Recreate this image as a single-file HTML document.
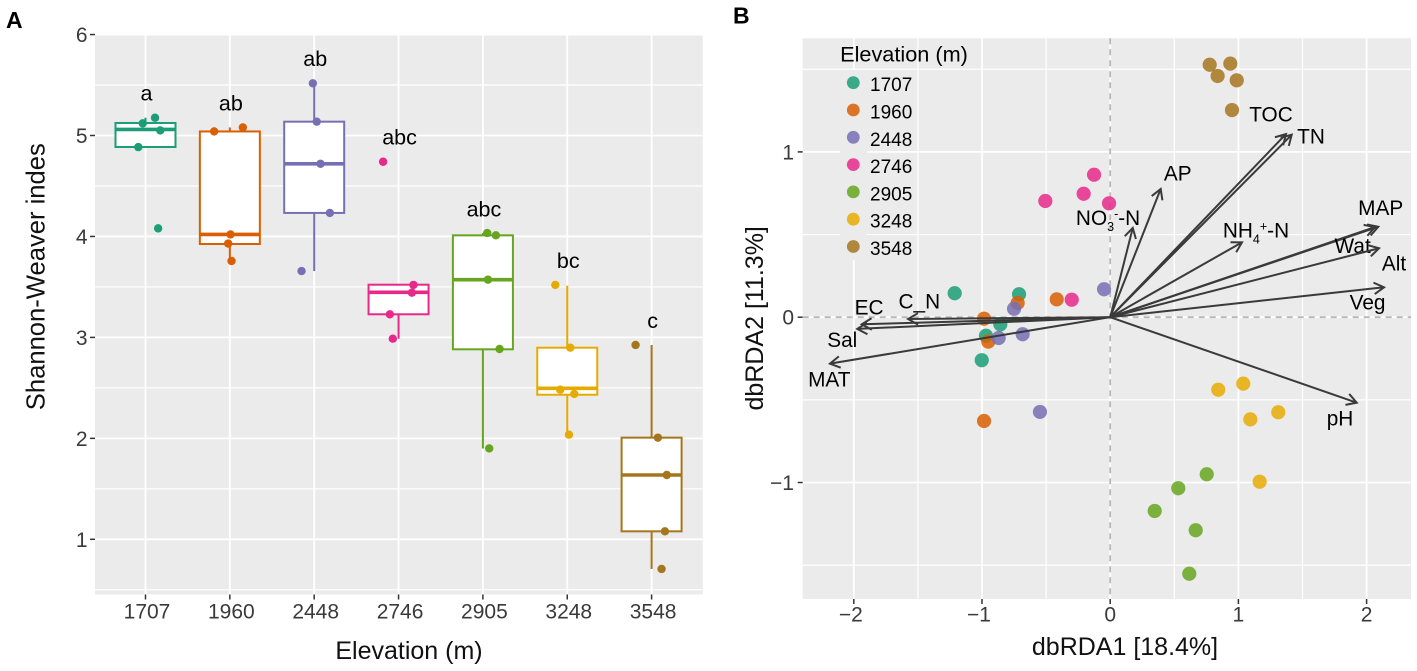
<!DOCTYPE html>
<html lang="en">
<head>
<meta charset="utf-8">
<title>Shannon-Weaver index and dbRDA by elevation</title>
<style>
html,body{margin:0;padding:0;background:#fff;}
svg{display:block;font-family:"Liberation Sans",Arial,sans-serif;}
</style>
</head>
<body>
<svg id="figure" xmlns="http://www.w3.org/2000/svg" width="1417" height="671" viewBox="0 0 1417 671"></svg>
<script>
// ---------- shared data ----------
const categories = ["1707","1960","2448","2746","2905","3248","3548"];
const colors = ["#1B9E77","#D95F02","#7570B3","#E7298A","#66A61E","#E6AB02","#A6761D"];

// ---------- panel A data ----------
const boxQ1 = [4.886,3.925,4.233,3.229,2.882,2.432,1.079];
const boxMedian = [5.06,4.02,4.72,3.447,3.572,2.496,1.637];
const boxQ3 = [5.124,5.04,5.137,3.522,4.011,2.898,2.007];
const whiskerLow = [4.886,3.757,3.657,2.987,1.90,2.036,0.706];
const whiskerHigh = [5.176,5.08,5.517,3.522,4.034,3.512,2.925];
const diversityValues = [
  [5.12,5.176,5.05,4.885,4.08],
  [5.04,5.08,4.02,3.93,3.757],
  [5.517,5.137,4.72,4.233,3.657],
  [4.74,3.52,3.443,3.229,2.987],
  [4.034,4.011,3.572,2.885,1.90],
  [3.52,2.898,2.482,2.44,2.036],
  [2.925,2.007,1.637,1.079,0.706]
];
const diversityJitter = [
  [-0.033,0.113,0.175,-0.085,0.15],
  [-0.186,0.154,0.008,-0.02,0.02],
  [-0.016,0.03,0.075,0.186,-0.15],
  [-0.183,0.177,0.158,-0.103,-0.068],
  [0.051,0.154,0.06,0.198,0.075],
  [-0.142,0.036,-0.083,0.083,0.02],
  [-0.19,0.075,0.18,0.158,0.118]
];
const sigLetters = ["a","ab","ab","abc","abc","bc","c"];
const sigLetterValues = [5.345,5.246,5.688,4.909,4.2,3.685,3.093];
const yTicksA = [1,2,3,4,5,6];
const yMinorA = [0.5,1.5,2.5,3.5,4.5,5.5];

// ---------- panel B data ----------
const siteX = [
  [-1.213,-0.711,-0.857,-0.969,-1.002],
  [-0.984,-0.722,-0.417,-0.951,-0.984],
  [-0.75,-0.683,-0.87,-0.548,-0.048],
  [-0.506,-0.126,-0.207,-0.009,-0.3],
  [0.753,0.531,0.347,0.667,0.617],
  [0.843,1.038,1.093,1.311,1.166],
  [0.776,0.937,0.838,0.987,0.95]
];
const siteY = [
  [0.145,0.139,-0.043,-0.112,-0.26],
  [-0.009,0.086,0.108,-0.148,-0.628],
  [0.051,-0.103,-0.126,-0.573,0.169],
  [0.703,0.862,0.747,0.689,0.106],
  [-0.95,-1.035,-1.172,-1.289,-1.552],
  [-0.439,-0.402,-0.618,-0.575,-0.995],
  [1.527,1.534,1.459,1.433,1.253]
];
const vectorNames = ["Veg","MAP","Wat","Alt","NH4","TOC","TN","AP","NO3","pH","MAT","Sal","EC","C_N"];
const vectorX = [2.136,2.091,2.065,2.097,1.028,1.371,1.416,0.394,0.176,1.923,-2.186,-1.973,-1.938,-1.577];
const vectorY = [0.181,0.547,0.545,0.417,0.453,1.108,1.104,0.776,0.54,-0.517,-0.281,-0.071,-0.043,-0.011];
const xTicksB = [-2,-1,0,1,2];
const yTicksB = [-1,0,1];
const xMinorB = [-1.5,-0.5,0.5,1.5];
const yMinorB = [-1.5,-0.5,0.5,1.5];

// ---------- layout ----------
const PA = {l:95,r:702.7,t:35,b:594.5};
const PB = {l:802.7,r:1411,t:38.3,b:599};
const INK = "#3a3a3a";
const PANEL = "#ebebeb";
const labelOffset = {
  Veg:[-16.5,22],MAP:[2.4,-11.7],Wat:[-22.3,25.7],Alt:[15,22.4],NH4:[14,-5],TOC:[-15,-12.7],TN:[19.3,8.6],
  AP:[17,-8.3],NO3:[-24.7,-2.7],pH:[-16.7,23],MAT:[-0.7,23],Sal:[-15,18.3],EC:[7.3,-10],C_N:[11.3,-10.7]
};

// ---------- scales ----------
const xA = i => 145.5 + 84.35 * i;
const yA = v => 539.3 - (v - 1) * 100.95;
const xB = v => 1110.2 + 128.2 * v;
const yB = v => 317.2 - 165.3 * v;

const NS = "http://www.w3.org/2000/svg";
const svg = document.getElementById("figure");
function make(tag, attrs, parent, text){
  const e = document.createElementNS(NS, tag);
  for (const k in attrs) e.setAttribute(k, attrs[k]);
  if (text !== undefined) e.textContent = text;
  parent.appendChild(e);
  return e;
}
function label(parent, name, x, y, text, size, opts){
  const e = make("text", Object.assign({x:x,y:y,"font-size":size,fill:"#111","text-anchor":"middle"}, opts||{}), parent, text);
  
  
  return e;
}
function line(parent, name, x1, y1, x2, y2, stroke, width, extra){
  const e = make("line", Object.assign({x1:x1,y1:y1,x2:x2,y2:y2,stroke:stroke,"stroke-width":width}, extra||{}), parent);
  
  
  return e;
}

// ---------- Panel A ----------
const gA = make("g", {}, svg);


label(svg, 'panel-a-tag', 6, 28, "A", 23, {"font-weight":"bold","text-anchor":"start",fill:"#000"});

const bgA = make("rect", {x:PA.l,y:PA.t,width:PA.r-PA.l,height:PA.b-PA.t,fill:PANEL}, gA);



yMinorA.forEach(v => line(gA, 'minor-gridline-y', PA.l, yA(v), PA.r, yA(v), "#fff", 1.2));
yTicksA.forEach(v => {
  line(gA, 'major-gridline-y', PA.l, yA(v), PA.r, yA(v), "#fff", 1.8);
  line(gA, 'y-tick-mark', PA.l-5, yA(v), PA.l, yA(v), "#333", 1.5);
  label(gA, 'y-tick-label', 87.5, yA(v)+7.5, String(v), 21, {"text-anchor":"end",fill:INK});
});
categories.forEach((c,i) => {
  line(gA, 'major-gridline-x', xA(i), PA.t, xA(i), PA.b, "#fff", 1.8);
  line(gA, 'x-tick-mark', xA(i), PA.b, xA(i), PA.b+5, "#333", 1.5);
  label(gA, 'x-tick-label', xA(i)+1.5, 618.3, c, 21, {fill:INK});
});

categories.forEach((c,i) => {
  const g = make("g", {}, gA);
  
  
  line(g, 'whisker-upper', xA(i), yA(boxQ3[i]), xA(i), yA(whiskerHigh[i]), colors[i], 2);
  line(g, 'whisker-lower', xA(i), yA(boxQ1[i]), xA(i), yA(whiskerLow[i]), colors[i], 2);
  const box = make("rect", {x:xA(i)-30,y:yA(boxQ3[i]),width:60,height:yA(boxQ1[i])-yA(boxQ3[i]),fill:"#fff",stroke:colors[i],"stroke-width":2}, g);
  
  
  line(g, 'median-' + c, xA(i)-30, yA(boxMedian[i]), xA(i)+30, yA(boxMedian[i]), colors[i], 3.6);
  diversityValues[i].forEach((v,j) => {
    const p = make("circle", {cx:xA(i+diversityJitter[i][j]),cy:yA(v),r:4.2,fill:colors[i]}, g);
    
    
  });
  label(g, 'significance-letter-' + c, xA(i)+1, yA(sigLetterValues[i]), sigLetters[i], 21.5, {fill:"#000"});
});

label(gA, 'x-axis-title', 409, 659, "Elevation (m)", 25);
label(gA, 'y-axis-title', 0, 0, "Shannon-Weaver indes", 25.6, {transform:"translate(44.3 276.7) rotate(-90)"});

// ---------- Panel B ----------
const gB = make("g", {}, svg);


label(svg, 'panel-b-tag', 733, 23.5, "B", 23, {"font-weight":"bold","text-anchor":"start",fill:"#000"});

const bgB = make("rect", {x:PB.l,y:PB.t,width:PB.r-PB.l,height:PB.b-PB.t,fill:PANEL}, gB);



xMinorB.forEach(v => line(gB, 'minor-gridline-x', xB(v), PB.t, xB(v), PB.b, "#fff", 1.2));
yMinorB.forEach(v => line(gB, 'minor-gridline-y', PB.l, yB(v), PB.r, yB(v), "#fff", 1.2));
xTicksB.forEach(v => {
  line(gB, 'major-gridline-x', xB(v), PB.t, xB(v), PB.b, "#fff", 1.8);
  line(gB, 'x-tick-mark', xB(v), PB.b, xB(v), PB.b+5, "#333", 1.5);
  label(gB, 'x-tick-label', xB(v) - (v<0?3:0), 621.7, String(v).replace("-","\u2212"), 21, {fill:INK});
});
yTicksB.forEach(v => {
  line(gB, 'major-gridline-y', PB.l, yB(v), PB.r, yB(v), "#fff", 1.8);
  line(gB, 'y-tick-mark', PB.l-5, yB(v), PB.l, yB(v), "#333", 1.5);
  label(gB, 'y-tick-label', 794, yB(v)+7.5, String(v).replace("-","\u2212"), 21, {"text-anchor":"end",fill:INK});
});
line(gB, 'zero-line-horizontal', PB.l, yB(0), PB.r, yB(0), "#b8b8b8", 1.8, {"stroke-dasharray":"6 5"});
line(gB, 'zero-line-vertical', xB(0), PB.t, xB(0), PB.b, "#b8b8b8", 1.8, {"stroke-dasharray":"6 5"});

// legend
const legend = make("g", {}, gB);


const keyBg = make("rect", {x:840,y:70,width:27,height:190,fill:PANEL}, legend);


label(legend, 'legend-title', 904, 61.7, "Elevation (m)", 21.7, {fill:"#000"});

// site points
categories.forEach((c,i) => {
  const key = make("circle", {cx:853.3,cy:82.7+27.3*i,r:6.4,fill:colors[i],"fill-opacity":0.85}, legend);
  
  
  label(legend, 'legend-label-' + c, 870, 91.2+27.3*i, c, 19, {"text-anchor":"start",fill:"#000"});
  siteX[i].forEach((x,j) => {
    const p = make("circle", {cx:xB(x),cy:yB(siteY[i][j]),r:7.1,fill:colors[i],"fill-opacity":0.85}, gB);
    
    
  });
});

// vectors
vectorNames.forEach((name,i) => {
  const g = make("g", {}, gB);
  
  
  const tx = xB(vectorX[i]), ty = yB(vectorY[i]), ox = xB(0), oy = yB(0);
  line(g, 'vector-shaft-' + name, ox, oy, tx, ty, INK, 2);
  const ang = Math.atan2(ty-oy, tx-ox), h = 11.5, sp = Math.PI/6;
  const head = make("polyline", {
    points:(tx-h*Math.cos(ang-sp))+","+(ty-h*Math.sin(ang-sp))+" "+tx+","+ty+" "+(tx-h*Math.cos(ang+sp))+","+(ty-h*Math.sin(ang+sp)),
    fill:"none",stroke:INK,"stroke-width":2
  }, g);
  
  
  const off = labelOffset[name];
  const t = label(g, 'vector-label-' + name, tx+off[0], ty+off[1], "", 20.8, {fill:"#000"});
  if (name === "NO3" || name === "NH4") {
    const stem = name === "NO3" ? "NO" : "NH";
    const sub = name === "NO3" ? "3" : "4";
    const sup = name === "NO3" ? "-" : "+";
    make("tspan", {}, t, stem);
    make("tspan", {"font-size":12.5,dy:6}, t, sub);
    make("tspan", {"font-size":12.5,dy:-13}, t, sup);
    make("tspan", {dy:7}, t, "-N");
  } else {
    t.textContent = name;
  }
});

label(gB, 'x-axis-title', 1125, 655, "dbRDA1 [18.4%]", 25);
label(gB, 'y-axis-title', 0, 0, "dbRDA2 [11.3%]", 25, {transform:"translate(763 318.3) rotate(-90)"});
</script>
</body>
</html>
